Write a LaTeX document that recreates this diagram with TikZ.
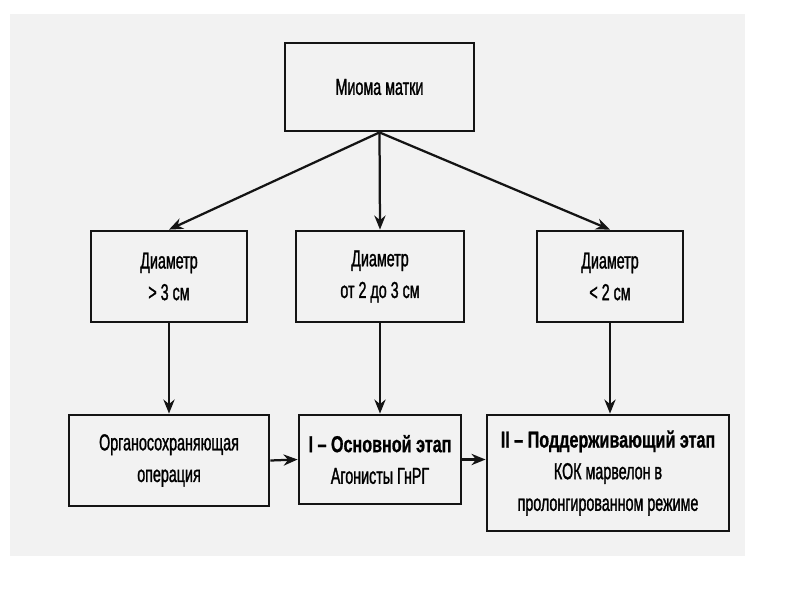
\documentclass[tikz,border=0pt]{standalone}
\usepackage{fontspec}
\setmainfont{Liberation Sans}[FakeStretch=0.62, FakeBold=1.2,
    BoldFeatures={FakeStretch=0.70, FakeBold=0.8}]
\usepackage{xcolor}
\definecolor{inkblack}{RGB}{20, 20, 20}
\definecolor{scangray}{RGB}{242, 242, 242}
\usepackage{tikz}
\usetikzlibrary{arrows.meta, positioning, calc}

\begin{document}
\begin{tikzpicture}[x=0.025cm, y=-0.025cm, >={Stealth[length=10pt, width=8pt]},
    schemebox/.style={draw=inkblack, line width=2pt, fill=scangray, align=center, inner sep=2pt,
        font=\fontsize{16.4}{22.5}\selectfont},
    flow/.style={->, line width=1.6pt, inkblack}]
    \useasboundingbox (0,0) rectangle (800,600);
    % scanned page tone
    \fill[scangray] (10,14) rectangle (745,556);
    % boxes
    \node[schemebox, minimum width=4.725cm, minimum height=2.2cm] (myoma) at (379.5,87) {Миома матки};
    \node[schemebox, minimum width=3.9cm, minimum height=2.275cm] (dbig) at (169,276.5) {Диаметр\\> 3 см};
    \node[schemebox, minimum width=4.2cm, minimum height=2.275cm] (dmid) at (380,276.5) {Диаметр\\от 2 до 3 см};
    \node[schemebox, minimum width=3.65cm, minimum height=2.275cm] (dsmall) at (610,276.5) {Диаметр\\< 2 см};
    \node[schemebox, minimum width=5.0cm, minimum height=2.275cm] (organ) at (169,460.5) {Органосохраняющая\\операция};
    \node[schemebox, minimum width=4.05cm, minimum height=2.225cm] (stageone) at (380,459.5) {\bfseries I – Основной этап\\Агонисты ГнРГ};
    \node[schemebox, minimum width=6.05cm, minimum height=2.9cm] (stagetwo) at (608,473) {\bfseries II – Поддерживающий этап\\КОК марвелон в\\пролонгированном режиме};
    % connectors
    \draw[flow] (myoma.south) -- (dbig.north);
    \draw[flow] (myoma.south) -- (dmid.north);
    \draw[flow] (myoma.south) -- (dsmall.north);
    \draw[flow] (dbig.south) -- (organ.north);
    \draw[flow] (dmid.south) -- (stageone.north);
    \draw[flow] (dsmall.south) -- (dsmall.south |- stagetwo.north);
    \draw[flow] (organ.east) -- (stageone.west);
    \draw[flow] (stageone.east) -- (stageone.east -| stagetwo.west);
\end{tikzpicture}
\end{document}
